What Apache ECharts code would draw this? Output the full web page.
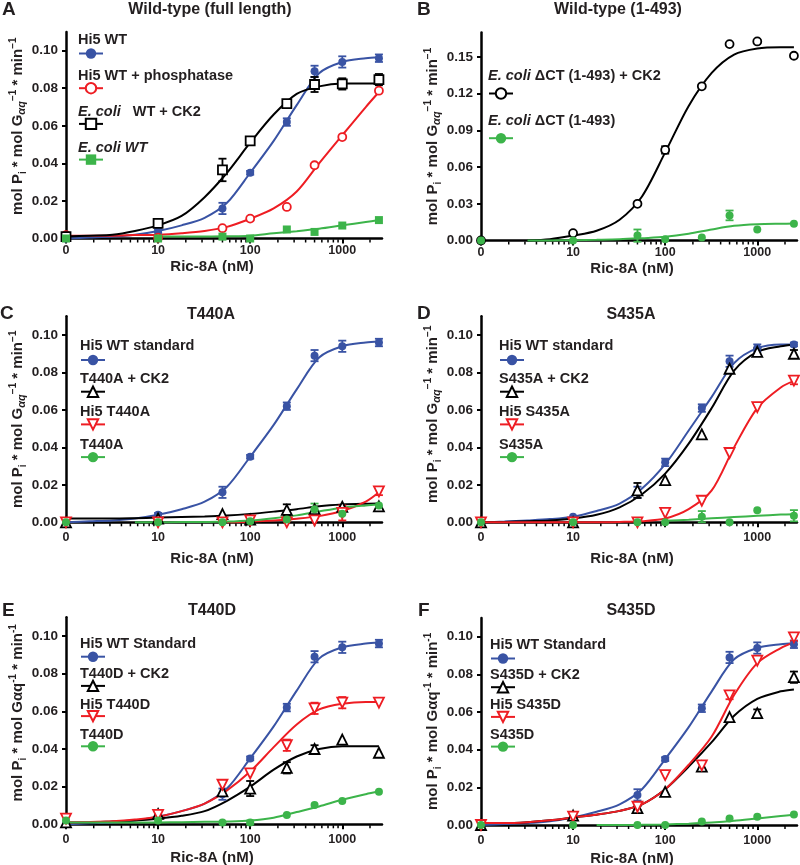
<!DOCTYPE html>
<html><head><meta charset="utf-8">
<script src="https://cdn.jsdelivr.net/npm/echarts@6/dist/echarts.min.js"></script>
<style>html,body{margin:0;padding:0;background:#fff}#c{width:800px;height:865px}</style>
</head><body><div id="c"></div>
<script>
// ---------------- DATA ----------------
const CONC = [0, 10, 50, 100, 250, 500, 1000, 2500];          // Ric-8A (nM), measured points
const FIT_CONC = [0, 1.8, 3.2, 5.6, 10, 18, 32, 56, 100, 180, 320, 560, 1000, 1800, 2500]; // positions
const X_TICKS = [0, 10, 100, 1000];
const X_LABELS_D = [0, 10, 1000];
const X_MINOR = [2,3,4,5,6,7,8,9,20,30,40,50,60,70,80,90,200,300,400,500,600,700,800,900,2000];
const Y_TICKS = [0, 0.02, 0.04, 0.06, 0.08, 0.10];
const Y_TICKS_B = [0, 0.03, 0.06, 0.09, 0.12, 0.15];

// Hi5 WT standard (A, C, E, F)
const WT = [0.000, 0.004, 0.016, 0.035, 0.062, 0.089, 0.094, 0.096];
const WT_ERR = [0, 0.001, 0.003, 0.001, 0.002, 0.003, 0.003, 0.002];
const WT_FIT = [0.000, 0.0005, 0.001, 0.002, 0.004, 0.007, 0.011, 0.019, 0.035, 0.052, 0.071, 0.088, 0.094, 0.096, 0.0965];

// Panel A
const A_PHOS = [0.0018, 0.0004, 0.0055, 0.0106, 0.0168, 0.0390, 0.0540, 0.0787];
const A_PHOS_ERR = [0, 0, 0, 0.001, 0, 0, 0, 0];
const A_PHOS_FIT = [0.0015, 0.0015, 0.0015, 0.0018, 0.002, 0.0028, 0.004, 0.0062, 0.0105, 0.016, 0.025, 0.040, 0.055, 0.070, 0.078];
const A_CK2 = [0.001, 0.008, 0.0365, 0.052, 0.0718, 0.082, 0.0823, 0.0846];
const A_CK2_ERR = [0, 0.001, 0.006, 0.001, 0.001, 0.004, 0.003, 0.003];
const A_CK2_FIT = [0.001, 0.0015, 0.002, 0.004, 0.007, 0.012, 0.022, 0.035, 0.051, 0.066, 0.077, 0.081, 0.0825, 0.0825, 0.0825];
const A_EC = [0.000, 0.000, 0.001, 0.000, 0.0048, 0.0035, 0.0069, 0.0098];
const A_EC_ERR = [0, 0, 0, 0, 0, 0, 0, 0];
const A_EC_FIT = [null, null, null, null, 0.001, 0.001, 0.001, 0.0012, 0.0015, 0.0028, 0.0039, 0.0052, 0.007, 0.0088, 0.0098];

// Panel B
const B_CK2 = [0.000, 0.006, 0.030, 0.074, 0.126, 0.1605, 0.1627, 0.151];
const B_CK2_ERR = [0, 0, 0, 0.003, 0, 0, 0, 0];
const B_CK2_FIT = [null, null, 0.000, 0.001, 0.004, 0.008, 0.017, 0.036, 0.072, 0.110, 0.137, 0.152, 0.157, 0.158, 0.158];
const B_DCT = [0.000, 0.000, 0.004, 0.001, 0.0025, 0.0205, 0.009, 0.0136];
const B_DCT_ERR = [0, 0, 0.005, 0, 0, 0.004, 0, 0];
const B_DCT_FIT = [null, null, 0.000, 0.0001, 0.0003, 0.0006, 0.001, 0.0019, 0.003, 0.0055, 0.009, 0.012, 0.0133, 0.0137, 0.0138];

// Panel C
const C_CK2 = [0.000, 0.002, 0.0044, 0.0015, 0.0066, 0.007, 0.0083, 0.0085];
const C_CK2_ERR = [0, 0, 0, 0, 0.003, 0, 0, 0];
const C_CK2_FIT = [0.002, 0.002, 0.002, 0.0022, 0.0025, 0.0028, 0.0031, 0.0036, 0.0045, 0.0057, 0.007, 0.0086, 0.0095, 0.0099, 0.010];
const C_HI5 = [0.000, 0.000, 0.000, 0.001, 0.000, 0.001, 0.005, 0.0165];
const C_HI5_ERR = [0, 0, 0, 0, 0, 0, 0.004, 0.002];
const C_HI5_FIT = [null, null, null, null, null, null, null, 0.000, 0.0003, 0.0009, 0.0019, 0.0033, 0.006, 0.011, 0.016];
const C_T440A = [0.000, 0.000, 0.000, 0.0005, 0.0015, 0.007, 0.0045, 0.009];
const C_T440A_ERR = [0, 0, 0, 0, 0, 0.003, 0, 0];
const C_T440A_FIT = [null, null, null, 0.000, 0.000, 0.0001, 0.0002, 0.0004, 0.001, 0.0022, 0.0037, 0.0058, 0.0078, 0.009, 0.0095];

// Panel D
const D_WT = [0.000, 0.003, 0.016, 0.032, 0.061, 0.086, 0.093, 0.095];
const D_WT_ERR = [0, 0, 0.003, 0.002, 0.002, 0.003, 0.002, 0.001];
const D_WT_FIT = [0.000, 0.0004, 0.001, 0.0017, 0.003, 0.006, 0.010, 0.018, 0.031, 0.049, 0.067, 0.085, 0.093, 0.095, 0.095];
const D_CK2 = [0.000, 0.000, 0.017, 0.0225, 0.047, 0.082, 0.091, 0.090];
const D_CK2_ERR = [0, 0, 0.004, 0, 0, 0, 0.002, 0.002];
const D_CK2_FIT = [0.000, 0.0002, 0.0006, 0.001, 0.002, 0.004, 0.008, 0.015, 0.026, 0.042, 0.061, 0.081, 0.091, 0.094, 0.095];
const D_HI5 = [0.000, 0.000, 0.000, 0.005, 0.0115, 0.037, 0.0615, 0.0757];
const D_HI5_ERR = [0, 0, 0, 0, 0, 0, 0, 0.002];
const D_HI5_FIT = [0.000, 0.000, 0.000, 0.000, 0.000, 0.000, 0.0002, 0.0006, 0.002, 0.007, 0.017, 0.040, 0.061, 0.072, 0.0755];
const D_S435A = [0.000, 0.000, 0.000, 0.000, 0.003, 0.000, 0.0065, 0.0035];
const D_S435A_ERR = [0, 0, 0, 0, 0.003, 0, 0, 0.003];
const D_S435A_FIT = [null, null, null, null, null, null, null, null, 0.0008, 0.0014, 0.0021, 0.0028, 0.0035, 0.0041, 0.0043];

// Panel E
const E_CK2 = [0.001, 0.0055, 0.0175, 0.019, 0.030, 0.040, 0.045, 0.038];
const E_CK2_ERR = [0, 0, 0, 0.004, 0.003, 0.002, 0, 0];
const E_CK2_FIT = [0.001, 0.001, 0.0015, 0.002, 0.003, 0.0045, 0.007, 0.0125, 0.020, 0.029, 0.036, 0.040, 0.0415, 0.0415, 0.0415];
const E_HI5 = [0.003, 0.005, 0.021, 0.027, 0.042, 0.0616, 0.0646, 0.0646];
const E_HI5_ERR = [0, 0, 0, 0, 0.003, 0.003, 0.003, 0];
const E_HI5_FIT = [0.001, 0.0012, 0.0016, 0.0025, 0.004, 0.007, 0.011, 0.018, 0.028, 0.041, 0.053, 0.061, 0.064, 0.065, 0.065];
const E_T440D = [0.002, 0.002, 0.001, 0.001, 0.005, 0.0103, 0.0124, 0.0173];
const E_T440D_ERR = [0, 0, 0, 0.001, 0, 0, 0, 0];
const E_T440D_FIT = [0.001, 0.001, 0.001, 0.001, 0.001, 0.0011, 0.0013, 0.0015, 0.002, 0.0035, 0.0065, 0.0095, 0.013, 0.016, 0.0175];

// Panel F
const F_CK2 = [0.000, 0.005, 0.009, 0.0176, 0.031, 0.0573, 0.0594, 0.0785];
const F_CK2_ERR = [0, 0.001, 0.001, 0, 0.002, 0, 0.002, 0.003];
const F_CK2_FIT = [0.001, 0.001, 0.0015, 0.0025, 0.004, 0.0055, 0.0075, 0.011, 0.019, 0.031, 0.044, 0.058, 0.067, 0.071, 0.072];
const F_HI5 = [0.000, 0.0045, 0.0097, 0.0265, 0.0317, 0.0688, 0.0873, 0.0997];
const F_HI5_ERR = [0, 0, 0, 0, 0, 0.002, 0, 0.002];
const F_HI5_FIT = [0.001, 0.001, 0.0015, 0.0025, 0.004, 0.0055, 0.0075, 0.011, 0.019, 0.032, 0.047, 0.069, 0.086, 0.094, 0.097];
const F_S435D = [0.000, 0.000, 0.000, 0.000, 0.0018, 0.0035, 0.0044, 0.0056];
const F_S435D_ERR = [0, 0, 0, 0, 0, 0, 0, 0];
const F_S435D_FIT = [null, null, null, null, null, 0.000, 0.000, 0.0001, 0.0003, 0.0007, 0.0013, 0.0022, 0.0035, 0.0048, 0.0055];

// ---------------- STYLE / LAYOUT ----------------
const FONT = "'Liberation Sans', Arial, Helvetica, sans-serif";
const TXT = '#231f20';
const BLUE = '#3953a4', RED = '#ee1d23', BLACK = '#000000', GREEN = '#3cb44a';
const STY = {
  blueDot:  {color: BLUE,  sym: 'circle',   open: false, size: 8},
  redRing:  {color: RED,   sym: 'circle',   open: true,  size: 8},
  blackSq:  {color: BLACK, sym: 'rect',     open: true,  size: 9},
  greenSq:  {color: GREEN, sym: 'rect',     open: false, size: 8},
  blackRing:{color: BLACK, sym: 'circle',   open: true,  size: 8},
  greenDot: {color: GREEN, sym: 'circle',   open: false, size: 8},
  blackUp:  {color: BLACK, sym: 'triangle', open: true,  size: 10, rot: 0},
  redDown:  {color: RED,   sym: 'triangle', open: true,  size: 10, rot: 180}
};
const Y_NAME_SUB = '{n|mol P}{s|i}{n| * mol G}{q|αq}{p|−1}{n| * min}{p|−1}';
const Y_NAME_PLAIN = '{n|mol P}{s|i}{n| * mol Gαq}{p|-1}{n| * min}{p|-1}';

const PANELS = [
  {id: 'A', title: 'Wild-type (full length)', titleX: 210, titleY: 10, letterX: 2, letterY: 10,
   grid: {left: 66, top: 31.9, width: 316, height: 206.6}, yMax: 0.11, yTicks: Y_TICKS, xLabels: X_TICKS,
   labMargin: 6, nameGap: 21, xShift: 12, yName: Y_NAME_SUB, yShift: 9,
   legLeft: 78, legTop: 47, legGap: 23, textDy: 14,
   series: [
     {label: '{b|Hi5 WT}', st: 'blueDot', v: WT, e: WT_ERR, f: WT_FIT},
     {label: '{b|Hi5 WT + phosphatase}', st: 'redRing', v: A_PHOS, e: A_PHOS_ERR, f: A_PHOS_FIT},
     {label: '{i|E. coli}{b|   WT + CK2}', st: 'blackSq', v: A_CK2, e: A_CK2_ERR, f: A_CK2_FIT},
     {label: '{i|E. coli WT}', st: 'greenSq', v: A_EC, e: A_EC_ERR, f: A_EC_FIT}
   ]},
  {id: 'B', title: 'Wild-type (1-493)', titleX: 618, titleY: 10, letterX: 417, letterY: 10,
   grid: {left: 481, top: 32.5, width: 316, height: 208}, yMax: 0.17, yTicks: Y_TICKS_B, xLabels: X_TICKS,
   labMargin: 6, nameGap: 21, xShift: 7, yName: Y_NAME_SUB, yShift: 0,
   legLeft: 488, legTop: 87, legGap: 32, textDy: 18,
   series: [
     {label: '{i|E. coli}{b| ΔCT (1-493) + CK2}', st: 'blackRing', v: B_CK2, e: B_CK2_ERR, f: B_CK2_FIT},
     {label: '{i|E. coli}{b| ΔCT (1-493)}', st: 'greenDot', v: B_DCT, e: B_DCT_ERR, f: B_DCT_FIT}
   ]},
  {id: 'C', title: 'T440A', titleX: 211, titleY: 315, letterX: 0, letterY: 314,
   grid: {left: 66, top: 316.3, width: 316, height: 206}, yMax: 0.11, yTicks: Y_TICKS, xLabels: X_TICKS,
   labMargin: 9, nameGap: 29, xShift: 12, yName: Y_NAME_SUB, yShift: 0,
   legLeft: 80, legTop: 353.5, legGap: 20, textDy: 14,
   series: [
     {label: '{b|Hi5 WT standard}', st: 'blueDot', v: WT, e: WT_ERR, f: WT_FIT},
     {label: '{b|T440A + CK2}', st: 'blackUp', v: C_CK2, e: C_CK2_ERR, f: C_CK2_FIT},
     {label: '{b|Hi5 T440A}', st: 'redDown', v: C_HI5, e: C_HI5_ERR, f: C_HI5_FIT},
     {label: '{b|T440A}', st: 'greenDot', v: C_T440A, e: C_T440A_ERR, f: C_T440A_FIT}
   ]},
  {id: 'D', title: 'S435A', titleX: 631, titleY: 315, letterX: 417, letterY: 314,
   grid: {left: 481, top: 316.3, width: 316, height: 206}, yMax: 0.11, yTicks: Y_TICKS, xLabels: X_LABELS_D,
   labMargin: 9, nameGap: 29, xShift: 7, yName: Y_NAME_SUB, yShift: 5,
   legLeft: 499, legTop: 353.5, legGap: 20, textDy: 14,
   series: [
     {label: '{b|Hi5 WT standard}', st: 'blueDot', v: D_WT, e: D_WT_ERR, f: D_WT_FIT},
     {label: '{b|S435A + CK2}', st: 'blackUp', v: D_CK2, e: D_CK2_ERR, f: D_CK2_FIT},
     {label: '{b|Hi5 S435A}', st: 'redDown', v: D_HI5, e: D_HI5_ERR, f: D_HI5_FIT},
     {label: '{b|S435A}', st: 'greenDot', v: D_S435A, e: D_S435A_ERR, f: D_S435A_FIT}
   ]},
  {id: 'E', title: 'T440D', titleX: 212, titleY: 611, letterX: 2, letterY: 611,
   grid: {left: 66, top: 617.2, width: 316, height: 207.1}, yMax: 0.11, yTicks: Y_TICKS, xLabels: X_TICKS,
   labMargin: 9, nameGap: 26, xShift: 12, yName: Y_NAME_PLAIN, yShift: 8,
   legLeft: 80, legTop: 650.2, legGap: 17.5, textDy: 13,
   series: [
     {label: '{b|Hi5 WT Standard}', st: 'blueDot', v: WT, e: WT_ERR, f: WT_FIT},
     {label: '{b|T440D + CK2}', st: 'blackUp', v: E_CK2, e: E_CK2_ERR, f: E_CK2_FIT},
     {label: '{b|Hi5 T440D}', st: 'redDown', v: E_HI5, e: E_HI5_ERR, f: E_HI5_FIT},
     {label: '{b|T440D}', st: 'greenDot', v: E_T440D, e: E_T440D_ERR, f: E_T440D_FIT}
   ]},
  {id: 'F', title: 'S435D', titleX: 631, titleY: 611, letterX: 418, letterY: 611,
   grid: {left: 481, top: 617.9, width: 316, height: 207.1}, yMax: 0.11, yTicks: Y_TICKS, xLabels: X_TICKS,
   labMargin: 9, nameGap: 26, xShift: 7, yName: Y_NAME_PLAIN, yShift: 0,
   legLeft: 490, legTop: 652, legGap: 17, textDy: 14,
   series: [
     {label: '{b|Hi5 WT Standard}', st: 'blueDot', v: WT, e: WT_ERR, f: WT_FIT},
     {label: '{b|S435D + CK2}', st: 'blackUp', v: F_CK2, e: F_CK2_ERR, f: F_CK2_FIT},
     {label: '{b|Hi5 S435D}', st: 'redDown', v: F_HI5, e: F_HI5_ERR, f: F_HI5_FIT},
     {label: '{b|S435D}', st: 'greenDot', v: F_S435D, e: F_S435D_ERR, f: F_S435D_FIT}
   ]}
];

// "0" concentration sits one decade left of 10 on the log axis
const xPos = c => (c === 0 ? 1 : c);

const richBase = {
  b: {fontFamily: FONT, fontWeight: 'bold', fontSize: 14.5, color: TXT},
  i: {fontFamily: FONT, fontWeight: 'bold', fontStyle: 'italic', fontSize: 14.5, color: TXT}
};
const yNameRich = {
  n: {fontFamily: FONT, fontWeight: 'bold', fontSize: 15, color: TXT, lineHeight: 20},
  s: {fontFamily: FONT, fontWeight: 'bold', fontSize: 10, color: TXT, lineHeight: 9, verticalAlign: 'bottom'},
  q: {fontFamily: FONT, fontWeight: 'bold', fontStyle: 'italic', fontSize: 11, color: TXT, lineHeight: 10, verticalAlign: 'bottom'},
  p: {fontFamily: FONT, fontWeight: 'bold', fontSize: 10, color: TXT, lineHeight: 10, verticalAlign: 'top'}
};

const grids = [], xAxes = [], yAxes = [], series = [], legends = [], graphics = [];

PANELS.forEach((p, gi) => {
  grids.push(Object.assign({containLabel: false, outerBoundsMode: 'none'}, p.grid));
  xAxes.push({
    type: 'log', logBase: 10, gridIndex: gi, min: 1, max: 2700,
    axisLine: {show: true, onZero: false, lineStyle: {color: '#000', width: 2.5}},
    axisTick: {show: true, length: 5, lineStyle: {color: '#000', width: 2}, customValues: X_TICKS.map(xPos)},
    minorTick: {show: false},
    axisLabel: {
      customValues: p.xLabels.map(xPos), margin: p.labMargin,
      formatter: v => (v < 1.5 ? '0' : String(Math.round(v))),
      fontFamily: FONT, fontWeight: 'bold', fontSize: 12.5, color: TXT
    },
    splitLine: {show: false},
    name: 'Ric-8A (nM)', nameLocation: 'middle', nameGap: p.nameGap,
    nameTextStyle: {fontFamily: FONT, fontWeight: 'bold', fontSize: 15, color: TXT, padding: [0, p.xShift * 2, 0, 0]}
  });
  yAxes.push({
    type: 'value', gridIndex: gi, min: 0, max: p.yMax,
    axisLine: {show: true, onZero: false, lineStyle: {color: '#000', width: 2.5}},
    axisTick: {show: true, length: 4, lineStyle: {color: '#000', width: 2}, customValues: p.yTicks},
    axisLabel: {customValues: p.yTicks, margin: 8, formatter: v => v.toFixed(2),
      fontFamily: FONT, fontWeight: 'bold', fontSize: 13.5, color: TXT},
    splitLine: {show: false},
    name: p.yName, nameLocation: 'middle', nameGap: 36,
    nameTextStyle: {rich: yNameRich, padding: [0, 0, 0, p.yShift * 2]}
  });

  // minor ticks of the log axis
  series.push({
    type: 'custom', name: p.id + '-minor', xAxisIndex: gi, yAxisIndex: gi, silent: true, z: 1,
    data: X_MINOR.map(v => [v, 0]),
    renderItem: (params, api) => {
      const pt = api.coord([api.value(0), 0]);
      return {type: 'line', shape: {x1: pt[0], y1: pt[1] + 1, x2: pt[0], y2: pt[1] + 4},
        style: {stroke: '#000', lineWidth: 1.5}};
    }
  });

  const styleOf = st => st.open
    ? {color: '#ffffff', borderColor: st.color, borderWidth: 1.8, opacity: 1}
    : {color: st.color, borderWidth: 0, opacity: 1};

  const legNames = [];
  p.series.forEach((s, k) => {
    const st = STY[s.st];
    const nm = p.id + '-' + k;
    legNames.push(nm);
    // fitted curve (legend icon comes from this series)
    series.push({
      type: 'line', name: nm, xAxisIndex: gi, yAxisIndex: gi, z: 2, silent: true, clip: false,
      smooth: 0.3, showSymbol: false,
      symbol: st.sym, symbolSize: st.size, symbolRotate: st.rot || 0,
      itemStyle: styleOf(st), lineStyle: {color: st.color, width: 2},
      data: FIT_CONC.map((c, i) => [xPos(c), s.f[i]]).filter(d => d[1] != null)
    });
  });
  p.series.forEach((s, k) => {
    const st = STY[s.st];
    const errData = CONC.map((c, i) => [xPos(c), s.v[i], s.e[i]]).filter(d => d[2] > 0);
    series.push({
      type: 'custom', name: p.id + '-err-' + k, xAxisIndex: gi, yAxisIndex: gi, z: 3, silent: true,
      data: errData,
      renderItem: (params, api) => {
        const x = api.value(0), y = api.value(1), e = api.value(2);
        const hi = api.coord([x, y + e]), lo = api.coord([x, y - e]);
        const w = 4, sty = {stroke: st.color, lineWidth: 1.8};
        return {type: 'group', children: [
          {type: 'line', shape: {x1: hi[0], y1: hi[1], x2: lo[0], y2: lo[1]}, style: sty},
          {type: 'line', shape: {x1: hi[0] - w, y1: hi[1], x2: hi[0] + w, y2: hi[1]}, style: sty},
          {type: 'line', shape: {x1: lo[0] - w, y1: lo[1], x2: lo[0] + w, y2: lo[1]}, style: sty}
        ]};
      }
    });
  });
  p.series.forEach((s, k) => {
    const st = STY[s.st];
    series.push({
      type: 'scatter', name: p.id + '-pts-' + k, xAxisIndex: gi, yAxisIndex: gi, z: 4, silent: true, clip: false,
      symbol: st.sym, symbolSize: st.size, symbolRotate: st.rot || 0, itemStyle: styleOf(st),
      data: CONC.map((c, i) => [xPos(c), s.v[i]]).filter(d => d[1] != null)
    });
  });

  legends.push({
    data: legNames, left: p.legLeft, top: p.legTop, orient: 'vertical', padding: 0,
    itemWidth: 24, itemHeight: 13, itemGap: p.legGap, selectedMode: false,
    formatter: () => '', textStyle: {fontSize: 1}
  });
  p.series.forEach((s, k) => {
    const iconY = p.legTop + 6.5 + k * (13 + p.legGap);
    graphics.push({type: 'text', x: p.legLeft, y: iconY - p.textDy, silent: true,
      style: {text: s.label, rich: richBase, align: 'left', verticalAlign: 'middle',
        fontFamily: FONT, fontWeight: 'bold', fontSize: 14.5, fill: TXT}});
  });
  graphics.push({type: 'text', x: p.titleX, y: p.titleY, silent: true,
    style: {text: p.title, align: 'center', verticalAlign: 'middle', fontFamily: FONT, fontWeight: 'bold', fontSize: 16, fill: TXT}});
  graphics.push({type: 'text', x: p.letterX, y: p.letterY, silent: true,
    style: {text: p.id, align: 'left', verticalAlign: 'middle', fontFamily: FONT, fontWeight: 'bold', fontSize: 19, fill: TXT}});
});

const chart = echarts.init(document.getElementById('c'), null, {renderer: 'canvas'});
chart.setOption({
  animation: false,
  backgroundColor: '#ffffff',
  grid: grids, xAxis: xAxes, yAxis: yAxes, series: series, legend: legends, graphic: graphics
});
</script></body></html>
